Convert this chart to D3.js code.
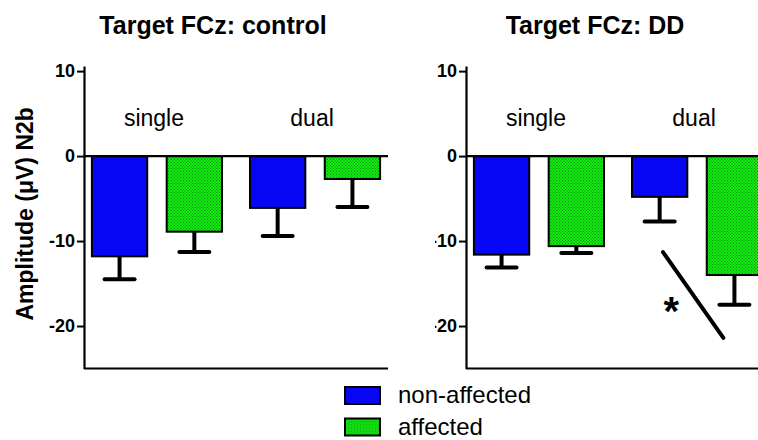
<!DOCTYPE html>
<html>
<head>
<meta charset="utf-8">
<script src="https://cdn.jsdelivr.net/npm/d3@7"></script>
<style>
	html, body { margin: 0; padding: 0; background: #fff; }
	svg { display: block; font-family: "Liberation Sans", Arial, sans-serif; }
</style>
</head>
<body>
<div id="chart"></div>
<script>
// categories and series
const groups = ['single', 'dual'];
const series = ['non-affected', 'affected'];
const panelTitles = ['Target FCz: control', 'Target FCz: DD'];
const yTicks = [10, 0, -10, -20];

// means and SEM (µV)
const controlNonAffected = [-11.8, -6.1];
const controlNonAffectedSem = [2.7, 3.3];
const controlAffected = [-8.9, -2.7];
const controlAffectedSem = [2.4, 3.3];
const ddNonAffected = [-11.6, -4.8];
const ddNonAffectedSem = [1.5, 2.9];
const ddAffected = [-10.6, -14.0];
const ddAffectedSem = [0.8, 3.5];

// significance mark in the DD panel (dual: non-affected vs affected)
const sigLine = [-11.3, -21.4];
const sigStar = '*';

const options = {
	w: 758,
	h: 440,
	panelX: [84, 466],
	panelW: 304,
	top: 66,
	bottom: 368.5,
	blue: '#0606f4',
	green: '#12ea12',
	dot: '#078a07',
	clipRight: 435
};

const panels = [
	{ title: panelTitles[0], mean: [controlNonAffected, controlAffected], sem: [controlNonAffectedSem, controlAffectedSem], sig: false },
	{ title: panelTitles[1], mean: [ddNonAffected, ddAffected], sem: [ddNonAffectedSem, ddAffectedSem], sig: true }
];

const svg = d3.select('#chart')
	.append('svg')
	.attr('width', options.w)
	.attr('height', options.h)
	.attr('viewBox', `0 0 ${options.w} ${options.h}`);

const defs = svg.append('defs');
const pat = defs.append('pattern')
	.attr('id', 'dots')
	.attr('patternUnits', 'userSpaceOnUse')
	.attr('width', 3)
	.attr('height', 3);
pat.append('rect').attr('width', 3).attr('height', 3).attr('fill', options.green);
pat.append('rect').attr('width', 1).attr('height', 1).attr('fill', options.dot);
pat.append('rect').attr('x', 1.5).attr('y', 1.5).attr('width', 1).attr('height', 1).attr('fill', options.dot);

defs.append('clipPath')
	.attr('id', 'clipR')
	.append('rect')
	.attr('x', options.clipRight - options.panelX[1])
	.attr('y', -100)
	.attr('width', 500)
	.attr('height', 600);

const fills = [options.blue, 'url(#dots)'];

const y = d3.scaleLinear()
	.domain([-25, 10.6])
	.range([options.bottom, options.top]);

const x0 = d3.scaleBand()
	.domain(groups)
	.range([0, options.panelW])
	.paddingInner(0.177)
	.paddingOuter(0.05);

const x1 = d3.scaleBand()
	.domain(series)
	.range([0, x0.bandwidth()])
	.paddingInner(0.26)
	.paddingOuter(0);

panels.forEach((p, pi) => {
	const g = svg.append('g')
		.attr('transform', `translate(${options.panelX[pi]},0)`)
		.attr('clip-path', pi === 1 ? 'url(#clipR)' : null);

	// title
	g.append('text')
		.attr('x', 129)
		.attr('y', 34)
		.attr('text-anchor', 'middle')
		.attr('font-size', 25)
		.attr('font-weight', 'bold')
		.text(p.title);

	// group labels
	g.selectAll('.grp')
		.data(groups)
		.enter()
		.append('text')
		.attr('class', 'grp')
		.attr('x', d => x0(d) + x0.bandwidth() / 2 - 3)
		.attr('y', 126)
		.attr('text-anchor', 'middle')
		.attr('font-size', 23)
		.text(d => d);

	// bars
	const rows = [];
	groups.forEach((gname, gi) => {
		series.forEach((s, si) => {
			rows.push({ group: gname, series: s, si: si, mean: p.mean[si][gi], sem: p.sem[si][gi] });
		});
	});

	g.selectAll('.bar')
		.data(rows)
		.enter()
		.append('rect')
		.attr('class', 'bar')
		.attr('x', d => x0(d.group) + x1(d.series))
		.attr('y', y(0))
		.attr('width', x1.bandwidth())
		.attr('height', d => y(d.mean) - y(0))
		.attr('fill', d => fills[d.si])
		.attr('stroke', '#000')
		.attr('stroke-width', 2);

	// error bars
	const cx = d => x0(d.group) + x1(d.series) + x1.bandwidth() / 2;
	g.selectAll('.err')
		.data(rows)
		.enter()
		.append('line')
		.attr('x1', cx)
		.attr('x2', cx)
		.attr('y1', d => y(d.mean))
		.attr('y2', d => y(d.mean - d.sem))
		.attr('stroke', '#000')
		.attr('stroke-width', 4);
	g.selectAll('.cap')
		.data(rows)
		.enter()
		.append('line')
		.attr('x1', d => cx(d) - 15)
		.attr('x2', d => cx(d) + 15)
		.attr('y1', d => y(d.mean - d.sem))
		.attr('y2', d => y(d.mean - d.sem))
		.attr('stroke', '#000')
		.attr('stroke-width', 4)
		.attr('stroke-linecap', 'round');

	// zero line and bottom line
	[0, -25].forEach(v => {
		g.append('line')
			.attr('x1', 0)
			.attr('x2', options.panelW)
			.attr('y1', y(v))
			.attr('y2', y(v))
			.attr('stroke', '#000')
			.attr('stroke-width', 2.2);
	});

	// y axis
	const ax = g.append('g')
		.call(d3.axisLeft(y).tickValues(yTicks).tickSize(7).tickSizeOuter(0).tickPadding(2).tickFormat(d => String(d)));
	ax.attr('font-size', 18).attr('font-family', null);
	ax.select('.domain').attr('stroke-width', 2.2);
	ax.selectAll('.tick line').attr('stroke-width', 2);
	ax.selectAll('.tick text')
		.attr('font-weight', 'bold')
		.attr('fill', '#000');

	if (p.sig) {
		const gi = 1;
		const xa = x0(groups[gi]) + x1(series[0]) + x1.bandwidth() * 0.56;
		const xb = x0(groups[gi]) + x1(series[1]) + x1.bandwidth() * 0.3;
		g.append('line')
			.attr('x1', xa)
			.attr('y1', y(sigLine[0]))
			.attr('x2', xb)
			.attr('y2', y(sigLine[1]))
			.attr('stroke', '#000')
			.attr('stroke-width', 4)
			.attr('stroke-linecap', 'round');
		g.append('text')
			.attr('x', x0(groups[gi]) + x1(series[0]) + x1.bandwidth() * 0.71)
			.attr('y', y(-17.4) + 21)
			.attr('text-anchor', 'middle')
			.attr('font-size', 40)
			.attr('font-weight', 'bold')
			.text(sigStar);
	}
});

// y axis title
svg.append('text')
	.attr('transform', `translate(33,${y(-6.8)}) rotate(-90)`)
	.attr('text-anchor', 'middle')
	.attr('font-size', 23)
	.attr('font-weight', 'bold')
	.text('Amplitude (\u03BCV) N2b');

// legend
const legend = svg.append('g').attr('transform', 'translate(345,387)');
const li = legend.selectAll('.li')
	.data(series)
	.enter()
	.append('g')
	.attr('transform', (d, i) => `translate(0,${i * 31.5})`);
li.append('rect')
	.attr('width', 35)
	.attr('height', 17)
	.attr('fill', (d, i) => fills[i])
	.attr('stroke', '#000')
	.attr('stroke-width', 2);
li.append('text')
	.attr('x', 53)
	.attr('y', 16)
	.attr('font-size', 24)
	.text(d => d);
</script>
</body>
</html>
